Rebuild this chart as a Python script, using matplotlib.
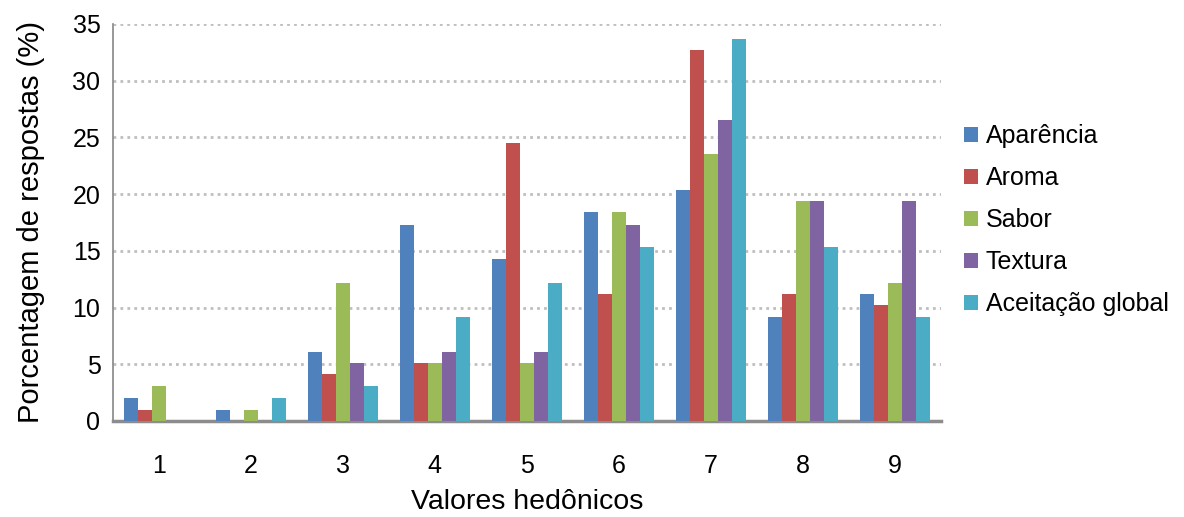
import numpy as np
import matplotlib
matplotlib.use("Agg")
import matplotlib.pyplot as plt

plt.rcParams['font.family'] = ['Liberation Sans', 'DejaVu Sans']

# hedonic scale points and share of answers (%) per attribute
valores = [1, 2, 3, 4, 5, 6, 7, 8, 9]
aparencia = [2.0, 1.0, 6.1, 17.3, 14.3, 18.4, 20.4, 9.2, 11.2]
aroma = [1.0, 0.0, 4.1, 5.1, 24.5, 11.2, 32.7, 11.2, 10.2]
sabor = [3.1, 1.0, 12.2, 5.1, 5.1, 18.4, 23.5, 19.4, 12.2]
textura = [0.0, 0.0, 5.1, 6.1, 6.1, 17.3, 26.5, 19.4, 19.4]
aceitacao = [0.0, 2.0, 3.1, 9.2, 12.2, 15.3, 33.7, 15.3, 9.2]

series = [
    ("Aparência", aparencia, "#4F81BD"),
    ("Aroma", aroma, "#C0504D"),
    ("Sabor", sabor, "#9BBB59"),
    ("Textura", textura, "#8064A2"),
    ("Aceitação global", aceitacao, "#4BACC6"),
]

fig = plt.figure(figsize=(11.84, 5.17), dpi=100)
ax = fig.add_axes([0.0954, 0.1857, 0.699, 0.768])

x = np.array(valores)
w = 0.152
for i, (nome, vals, cor) in enumerate(series):
    ax.bar(x + (i - 2) * w, vals, width=w, color=cor, label=nome, zorder=3)

ax.set_xlim(0.5, 9.5)
ax.set_ylim(0, 35)
ax.set_yticks(range(0, 36, 5))
ax.set_xticks(valores)
ax.tick_params(axis='both', length=0, labelsize=18)
ax.tick_params(axis='x', pad=24)
ax.tick_params(axis='y', pad=9)

ax.yaxis.grid(True, linestyle=(0, (1, 1.5)), color='#BFBFBF', linewidth=2)
ax.set_axisbelow(True)

for s in ['top', 'right']:
    ax.spines[s].set_visible(False)
ax.spines['left'].set_color('#868686')
ax.spines['left'].set_linewidth(1.2)
ax.spines['bottom'].set_color('#8C8C8C')
ax.spines['bottom'].set_linewidth(2.5)

ax.set_xlabel("Valores hedônicos", fontsize=20.5, labelpad=8)
ax.set_ylabel("Porcentagem de respostas (%)", fontsize=21, labelpad=20)

fig.legend(loc='center left', bbox_to_anchor=(0.806, 0.574), frameon=False,
           fontsize=18, handlelength=0.55, handleheight=0.55,
           handletextpad=0.3, labelspacing=0.72, borderaxespad=0)

fig.savefig("out.png", dpi=100)
